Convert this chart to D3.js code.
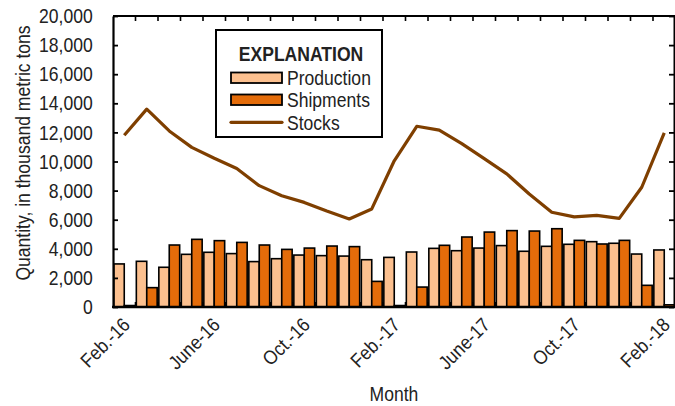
<!DOCTYPE html>
<html>
<head>
<meta charset="utf-8">
<script src="https://cdn.jsdelivr.net/npm/d3@7"></script>
<style>
  body { margin: 0; background: #fff; }
  text { font-family: "Liberation Sans Narrow", "Arial Narrow", "Liberation Sans", sans-serif; fill: #222; }
</style>
</head>
<body>
<script>
// months Feb. 2016 - Feb. 2018
const months = ["Feb.-16","Mar.-16","Apr.-16","May-16","June-16","July-16","Aug.-16","Sept.-16",
  "Oct.-16","Nov.-16","Dec.-16","Jan.-17","Feb.-17","Mar.-17","Apr.-17","May-17","June-17",
  "July-17","Aug.-17","Sept.-17","Oct.-17","Nov.-17","Dec.-17","Jan.-18","Feb.-18"];
const tickLabels = ["Feb.-16","June-16","Oct.-16","Feb.-17","June-17","Oct.-17","Feb.-18"];

// thousand metric tons
const production = [2960,3140,2730,3620,3760,3670,3120,3320,3570,3530,3500,3250,3410,
  3780,4030,3870,4050,4220,3830,4170,4310,4490,4380,3640,3920];
const shipments = [100,1330,4260,4650,4560,4440,4260,3960,4050,4190,4150,1760,100,
  1370,4240,4810,5150,5250,5220,5380,4580,4330,4580,1490,150];
const stocks = [11800,13600,12100,10970,10220,9520,8340,7650,7190,6600,6050,6740,10050,
  12420,12160,11230,10200,9150,7770,6510,6190,6300,6090,8230,11960];

const yTicks = [0,2000,4000,6000,8000,10000,12000,14000,16000,18000,20000];

const width = 675, height = 406;
const margin = {top: 16, right: 0, bottom: 99, left: 113};
const fs = 19.5;      // font size
const narrow = 0.9;   // squeeze text to look like a narrow face

const svg = d3.select("body").append("svg")
  .attr("width", width)
  .attr("height", height);

const x = d3.scaleBand()
  .domain(months)
  .range([margin.left, width - margin.right + 0.5])
  .paddingInner(0)
  .paddingOuter(0);

const inner = d3.scaleBand()
  .domain(["p","s"])
  .range([0, x.bandwidth()])
  .paddingInner(0)
  .paddingOuter(0.08);

const y = d3.scaleLinear()
  .domain([0, 20000])
  .range([height - margin.bottom, margin.top]);

const fmt = d3.format(",");

// bars
const groups = svg.append("g").selectAll("g")
  .data(months)
  .join("g")
  .attr("transform", d => "translate(" + x(d) + ",0)");

groups.append("rect")
  .attr("x", inner("p"))
  .attr("width", inner.bandwidth())
  .attr("y", (d, i) => y(production[i]))
  .attr("height", (d, i) => y(0) - y(production[i]))
  .attr("fill", "#fcc08f")
  .attr("stroke", "#000")
  .attr("stroke-width", 1.6);

groups.append("rect")
  .attr("x", inner("s"))
  .attr("width", inner.bandwidth())
  .attr("y", (d, i) => y(shipments[i]))
  .attr("height", (d, i) => y(0) - y(shipments[i]))
  .attr("fill", "#e46c0a")
  .attr("stroke", "#000")
  .attr("stroke-width", 1.6);

// stocks line
const line = d3.line()
  .x((d, i) => x(months[i]) + x.bandwidth() / 2)
  .y(d => y(d));

svg.append("path")
  .datum(stocks)
  .attr("d", line)
  .attr("fill", "none")
  .attr("stroke", "#7f3f00")
  .attr("stroke-width", 3.2)
  .attr("stroke-linejoin", "round");

// axes
const bounds = months.map(m => x(m)).concat([x.range()[1]]);

// left axis
const yAxis = svg.append("g")
  .attr("transform", "translate(" + margin.left + ",0)")
  .call(d3.axisLeft(y).tickValues(yTicks).tickFormat(fmt).tickSizeInner(-5).tickSizeOuter(0).tickPadding(22.5));
yAxis.select(".domain").attr("stroke", "#000").attr("stroke-width", 2.2);
yAxis.selectAll(".tick line").attr("stroke", "#000").attr("stroke-width", 1.8);
yAxis.selectAll(".tick text")
  .attr("font-size", fs)
  .attr("fill", "#222")
  .attr("dy", "0.34em")
  .attr("transform", "scale(" + narrow + ",1)");

// right axis
const yAxisR = svg.append("g")
  .attr("transform", "translate(" + (width - 1) + ",0)")
  .call(d3.axisRight(y).tickValues(yTicks).tickFormat("").tickSizeInner(-5).tickSizeOuter(0));
yAxisR.select(".domain").attr("stroke", "#000").attr("stroke-width", 2);
yAxisR.selectAll(".tick line").attr("stroke", "#000").attr("stroke-width", 1.8);

// top frame with month ticks
const topFrame = svg.append("g");
topFrame.append("line")
  .attr("x1", margin.left).attr("x2", width)
  .attr("y1", y(20000)).attr("y2", y(20000))
  .attr("stroke", "#000").attr("stroke-width", 2);
topFrame.selectAll("line.t")
  .data(bounds.slice(1, -1))
  .join("line")
  .attr("class", "t")
  .attr("x1", d => d).attr("x2", d => d)
  .attr("y1", y(20000)).attr("y2", y(20000) + 5)
  .attr("stroke", "#000").attr("stroke-width", 1.6);

// bottom axis
const bottomAxis = svg.append("g");
bottomAxis.selectAll("line.t")
  .data(bounds.slice(1, -1))
  .join("line")
  .attr("class", "t")
  .attr("x1", d => d).attr("x2", d => d)
  .attr("y1", y(0)).attr("y2", y(0) - 5)
  .attr("stroke", "#000").attr("stroke-width", 1.6);
bottomAxis.append("line")
  .attr("x1", margin.left - 1).attr("x2", width)
  .attr("y1", y(0)).attr("y2", y(0))
  .attr("stroke", "#000").attr("stroke-width", 2.4);

bottomAxis.selectAll("text")
  .data(tickLabels)
  .join("text")
  .attr("transform", d => "translate(" + (x(d) + x.bandwidth() / 2 + 7) + "," + (y(0) + 19) + ") rotate(-45) scale(" + narrow + ",1)")
  .attr("text-anchor", "end")
  .attr("font-size", fs)
  .text(d => d);

// axis titles
svg.append("text")
  .attr("transform", "translate(30,153) rotate(-90) scale(" + narrow + ",1)")
  .attr("text-anchor", "middle")
  .attr("font-size", fs)
  .text("Quantity, in thousand metric tons");

svg.append("text")
  .attr("transform", "translate(394,401) scale(" + narrow + ",1)")
  .attr("text-anchor", "middle")
  .attr("font-size", fs)
  .text("Month");

// legend
const legend = svg.append("g").attr("transform", "translate(216,30)");
legend.append("rect")
  .attr("width", 166).attr("height", 107)
  .attr("fill", "#fff").attr("stroke", "#000").attr("stroke-width", 2);
legend.append("text")
  .attr("transform", "translate(85,31) scale(" + narrow + ",1)")
  .attr("text-anchor", "middle")
  .attr("font-size", fs)
  .attr("font-weight", "bold")
  .text("EXPLANATION");

const items = [
  {name: "Production", fill: "#fcc08f"},
  {name: "Shipments", fill: "#e46c0a"}
];
items.forEach((it, i) => {
  legend.append("rect")
    .attr("x", 15).attr("y", 42.5 + i * 22)
    .attr("width", 51).attr("height", 10.5)
    .attr("fill", it.fill).attr("stroke", "#000").attr("stroke-width", 1.8);
  legend.append("text")
    .attr("transform", "translate(71," + (55 + i * 22) + ") scale(" + narrow + ",1)")
    .attr("font-size", fs)
    .text(it.name);
});
legend.append("line")
  .attr("x1", 15).attr("x2", 66)
  .attr("y1", 92.3).attr("y2", 92.3)
  .attr("stroke", "#7f3f00").attr("stroke-width", 3.2)
  .attr("stroke-linecap", "round");
legend.append("text")
  .attr("transform", "translate(71,100) scale(" + narrow + ",1)")
  .attr("font-size", fs)
  .text("Stocks");
</script>
</body>
</html>
